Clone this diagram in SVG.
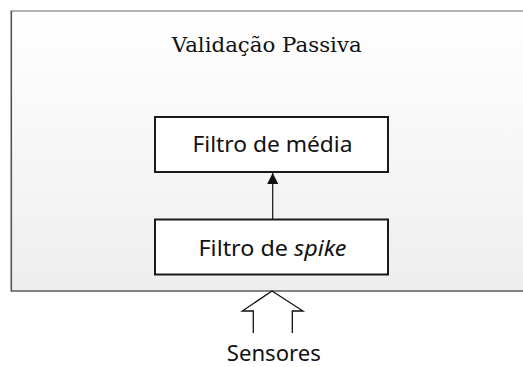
<svg xmlns="http://www.w3.org/2000/svg" width="523" height="367" viewBox="0 0 523 367">
<style>
.box{fill:#ffffff;stroke:#1a1a1a;stroke-width:2}
.t{font-family:"Noto Sans","Open Sans","Liberation Sans",sans-serif;font-size:22px;fill:#111;text-anchor:middle}
.ts{font-family:"DejaVu Serif","Liberation Serif",serif;font-size:21px;fill:#111;text-anchor:middle}
.ln{stroke:#111;stroke-width:1.3;fill:none}
</style>
<defs>
<linearGradient id="bg" x1="0" y1="0" x2="0" y2="1">
<stop offset="0" stop-color="#ffffff"/>
<stop offset="1" stop-color="#eeeeee"/>
</linearGradient>
<marker id="ah" viewBox="0 0 10 10" refX="10" refY="5" markerWidth="11" markerHeight="11" markerUnits="userSpaceOnUse" orient="auto">
<path d="M0,0 L10,5 L0,10 z" fill="#111"/>
</marker>
</defs>
<g id="container">
<rect x="11" y="11" width="520" height="280" fill="url(#bg)" stroke="#999" stroke-width="1.5"/>
<path d="M11.5,11 V291 H523" fill="none" stroke="#555" stroke-width="1.2"/>
<text class="ts" x="266.7" y="51.5" textLength="190" lengthAdjust="spacingAndGlyphs">Validação Passiva</text>
</g>
<g id="filtro-media">
<rect class="box" x="155" y="117" width="233" height="55"/>
<text class="t" x="272.5" y="152" textLength="160" lengthAdjust="spacingAndGlyphs">Filtro de média</text>
</g>
<g id="filtro-spike">
<rect class="box" x="155" y="219.5" width="233" height="55"/>
<text class="t" x="272.5" y="256" textLength="148" lengthAdjust="spacingAndGlyphs">Filtro de <tspan font-style="italic">spike</tspan></text>
</g>
<g id="sensores">
<path class="ln" d="M253.3,333 V311 H242.3 L272,291 L303,311 H292.3 V333"/>
<text class="t" x="273.8" y="360.5" font-size="20" textLength="94" lengthAdjust="spacingAndGlyphs">Sensores</text>
</g>
<g id="connectors">
<line x1="272.7" y1="219" x2="272.7" y2="173" stroke="#111" stroke-width="1.2" marker-end="url(#ah)"/>
</g>
</svg>
